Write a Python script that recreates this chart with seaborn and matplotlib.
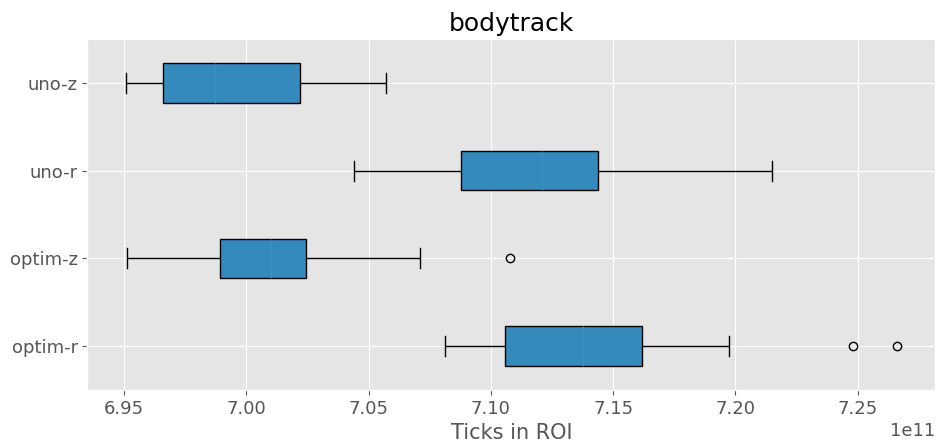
import pandas as pd
import numpy as np
import matplotlib.pyplot as plt
import seaborn as sns

plt.style.use("ggplot")

CATEGORIES = ["uno-z", "uno-r", "optim-z", "optim-r"]

# estimated ROI tick counts per configuration
uno_z = [6.9507e11, 6.9580e11, 6.9661e11, 6.9760e11, 6.9872e11,
         7.0010e11, 7.0219e11, 7.0400e11, 7.0571e11]
uno_r = [7.0442e11, 7.0700e11, 7.0878e11, 7.1050e11, 7.1209e11,
         7.1320e11, 7.1438e11, 7.1800e11, 7.2150e11]
optim_z = [6.9511e11, 6.9700e11, 6.9892e11, 7.0000e11, 7.0099e11,
           7.0170e11, 7.0243e11, 7.0711e11, 7.1080e11]
optim_r = [7.0811e11, 7.0900e11, 7.1000e11, 7.1056e11, 7.1150e11, 7.1270e11,
           7.1377e11, 7.1460e11, 7.1550e11, 7.1620e11, 7.1975e11,
           7.2480e11, 7.2663e11]

df = pd.DataFrame({
    "config": (["uno-z"] * len(uno_z) + ["uno-r"] * len(uno_r)
               + ["optim-z"] * len(optim_z) + ["optim-r"] * len(optim_r)),
    "ticks": uno_z + uno_r + optim_z + optim_r,
})

fig, ax = plt.subplots(figsize=(9.4, 4.46), dpi=100)
sns.boxplot(data=df, x="ticks", y="config", order=CATEGORIES, orient="h",
            width=0.45, color="#348ABD", saturation=1, linecolor="black",
            linewidth=1, whis=1.5, ax=ax,
            medianprops=dict(color="#3a8fc2", linewidth=1),
            flierprops=dict(marker="o", markerfacecolor="none",
                            markeredgecolor="black", markersize=6))

ax.set_title("bodytrack", fontsize=18)
ax.set_xlabel("Ticks in ROI", fontsize=15)
ax.set_ylabel("")
ax.tick_params(labelsize=13)
ax.xaxis.get_offset_text().set_fontsize(13)
ax.set_xlim(6.9350e11, 7.2818e11)
ax.set_ylim(3.5, -0.5)
ax.grid(True, axis="both", color="white")
ax.set_axisbelow(True)

fig.subplots_adjust(left=0.093, right=0.995, top=0.912, bottom=0.126)
plt.savefig("out.png")
